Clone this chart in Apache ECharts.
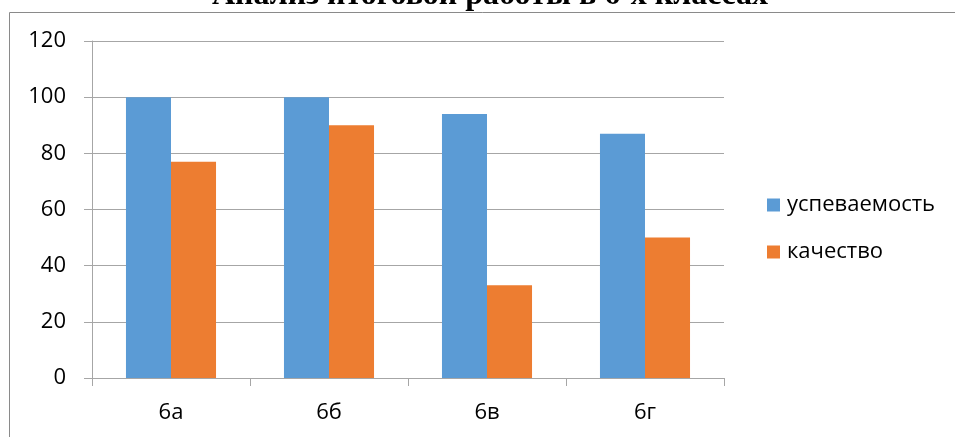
<!DOCTYPE html>
<html>
<head>
<meta charset="utf-8">
<script src="https://cdn.jsdelivr.net/npm/echarts@6/dist/echarts.min.js"></script>
<style>
html,body{margin:0;padding:0;background:#fff;}
#chart{width:955px;height:437px;}
</style>
</head>
<body>
<div id="chart"></div>
<script>
const titleText = 'Анализ итоговой работы в 6-х классах';
const categories = ['6а', '6б', '6в', '6г'];
const seriesNames = ['успеваемость', 'качество'];
const uspevaemost = [100, 100, 94, 87];
const kachestvo = [77, 90, 33, 50];
const yTicks = { min: 0, max: 120, interval: 20 };

const chart = echarts.init(document.getElementById('chart'), null, { renderer: 'canvas' });
const labelFont = '"Open Sans", "Noto Sans", sans-serif';
chart.setOption({
  animation: false,
  backgroundColor: '#fff',
  graphic: [
    { type: 'line', shape: { x1: 9.5, y1: 12.5, x2: 960, y2: 12.5 }, style: { stroke: '#8a8a8a', lineWidth: 1 } },
    { type: 'line', shape: { x1: 9.5, y1: 12.5, x2: 9.5, y2: 440 }, style: { stroke: '#8a8a8a', lineWidth: 1 } },
    { type: 'text', x: 490, y: -20, style: { text: titleText, align: 'center', verticalAlign: 'top', font: 'bold 32px "Liberation Serif", "Times New Roman", serif', fill: '#000' } }
  ],
  legend: {
    orient: 'vertical',
    left: 762,
    top: 189,
    itemWidth: 13,
    itemHeight: 13,
    itemGap: 25,
    icon: 'rect',
    textStyle: { fontFamily: labelFont, fontSize: 22, color: '#000', padding: [0, 0, 0, 2] },
    data: seriesNames
  },
  grid: { left: 92, right: 231, top: 41, bottom: 59, containLabel: false },
  xAxis: {
    type: 'category',
    data: categories,
    axisLine: { lineStyle: { color: '#a6a6a6', width: 1 } },
    axisTick: { show: true, length: 8, lineStyle: { color: '#a6a6a6' } },
    axisLabel: { fontFamily: labelFont, fontSize: 22, color: '#000', margin: 24 }
  },
  yAxis: {
    type: 'value',
    min: yTicks.min, max: yTicks.max, interval: yTicks.interval,
    axisLine: { show: true, lineStyle: { color: '#a6a6a6', width: 1 } },
    axisTick: { show: true, length: 8, lineStyle: { color: '#a6a6a6' } },
    splitLine: { lineStyle: { color: '#a6a6a6', width: 1 } },
    axisLabel: { fontFamily: labelFont, fontSize: 22, color: '#000', margin: 26 }
  },
  series: [
    { name: seriesNames[0], type: 'bar', data: uspevaemost, itemStyle: { color: '#5b9bd5' }, barGap: '0%', barCategoryGap: '43%' },
    { name: seriesNames[1], type: 'bar', data: kachestvo, itemStyle: { color: '#ed7d31' }, barGap: '0%', barCategoryGap: '43%' }
  ]
});
</script>
</body>
</html>
